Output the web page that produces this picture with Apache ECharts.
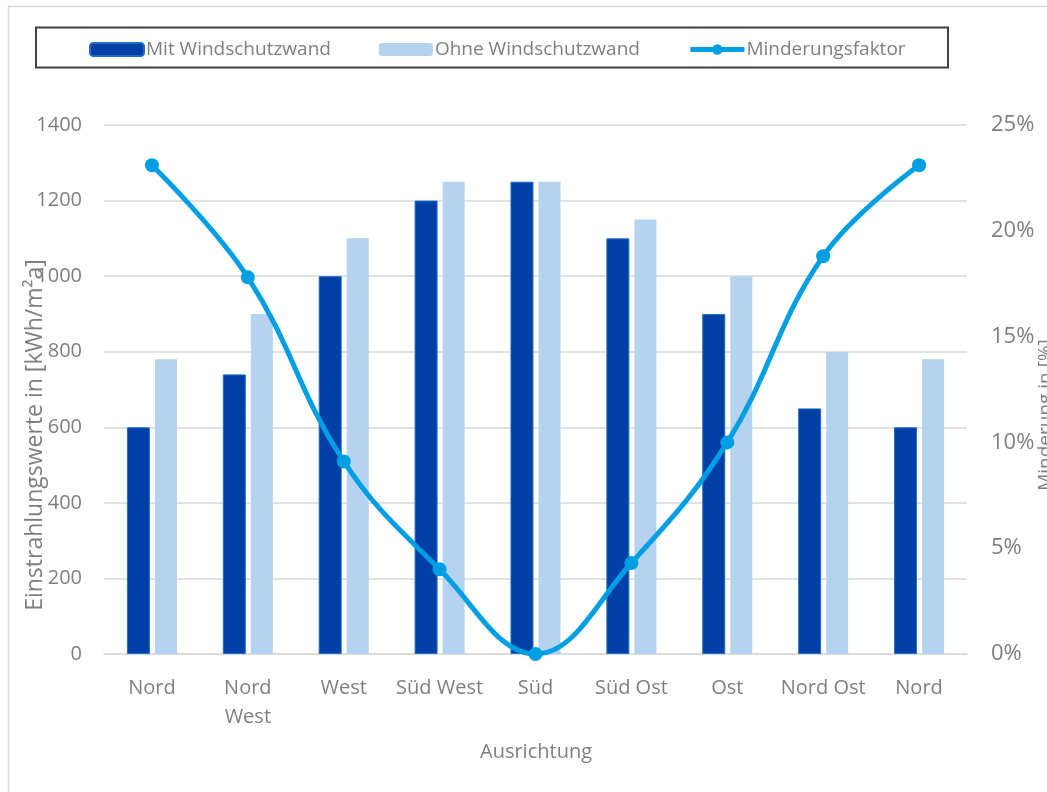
<!DOCTYPE html>
<html>
<head>
<meta charset="utf-8">
<script src="https://cdn.jsdelivr.net/npm/echarts@6/dist/echarts.min.js"></script>
<style>
html,body{margin:0;padding:0;background:#fff;}
#chart{width:1047px;height:792px;}
</style>
</head>
<body>
<div id="chart"></div>
<script>
// Ausrichtung
var kategorien = ['Nord', 'Nord\nWest', 'West', 'Süd West', 'Süd', 'Süd Ost', 'Ost', 'Nord Ost', 'Nord'];
// Einstrahlung kWh/m²a
var mitWand = [600, 740, 1000, 1200, 1250, 1100, 900, 650, 600];
var ohneWand = [780, 900, 1100, 1250, 1250, 1150, 1000, 800, 780];
// Minderungsfaktor (Anteil)
var minderung = [0.231, 0.178, 0.091, 0.040, 0.000, 0.043, 0.100, 0.188, 0.231];
var linksTicks = [0, 200, 400, 600, 800, 1000, 1200, 1400];

var grau = '#7f7f7f';
var schrift = '"Open Sans", "Noto Sans", sans-serif';

var chart = echarts.init(document.getElementById('chart'));
chart.setOption({
	backgroundColor: '#fff',
	animation: false,
	textStyle: { fontFamily: schrift },
	grid: { left: 104, right: 80, top: 125, bottom: 138, containLabel: false },
	legend: {
		top: 35,
		left: 84,
		itemWidth: 54,
		itemHeight: 13,
		itemGap: 48,
		textStyle: { color: grau, fontSize: 19, padding: [0, 0, 0, -3] },
		data: [
			{ name: 'Mit Windschutzwand' },
			{ name: 'Ohne Windschutzwand' },
			{ name: 'Minderungsfaktor', itemStyle: { color: '#009fe3' }, lineStyle: { width: 5, color: '#009fe3' } }
		]
	},
	xAxis: {
		type: 'category',
		data: kategorien,
		axisLine: { lineStyle: { color: '#d9d9d9', width: 1.5 } },
		axisTick: { show: false },
		axisLabel: { color: grau, fontSize: 20, margin: 20, lineHeight: 29, interval: 0 }
	},
	yAxis: [{
		type: 'value',
		min: linksTicks[0],
		max: linksTicks[linksTicks.length - 1],
		interval: 200,
		axisLine: { show: false },
		axisTick: { show: false },
		splitLine: { lineStyle: { color: '#d9d9d9', width: 1.5 } },
		axisLabel: { color: grau, fontSize: 20, margin: 22, formatter: function (v) { return String(v); } }
	}, {
		type: 'value',
		min: 0,
		max: 0.25,
		interval: 0.05,
		axisLine: { show: false },
		axisTick: { show: false },
		splitLine: { show: false },
		axisLabel: {
			color: grau, fontSize: 22, margin: 24,
			formatter: function (v) { return Math.round(v * 100) + '%'; }
		}
	}],
	series: [{
		name: 'Mit Windschutzwand',
		type: 'bar',
		data: mitWand,
		barWidth: 23,
		barGap: '22%',
		itemStyle: { color: '#003fa5', borderColor: '#1f6fc8', borderWidth: 1 }
	}, {
		name: 'Ohne Windschutzwand',
		type: 'bar',
		data: ohneWand,
		barWidth: 22,
		itemStyle: { color: '#b5d3ee' }
	}, {
		name: 'Minderungsfaktor',
		type: 'line',
		yAxisIndex: 1,
		data: minderung,
		smooth: 0.4,
		symbol: 'circle',
		symbolSize: 14,
		lineStyle: { color: '#009fe3', width: 5 },
		itemStyle: { color: '#009fe3' },
		z: 5
	}],
	graphic: [{
		type: 'rect',
		shape: { x: 8.5, y: 6.5, width: 1060, height: 800 },
		style: { fill: 'none', stroke: '#d9d9d9', lineWidth: 1.5 },
		z: -1
	}, {
		type: 'rect',
		shape: { x: 36, y: 27.5, width: 912, height: 40 },
		style: { fill: 'none', stroke: '#404040', lineWidth: 2 }
	}, {
		type: 'text',
		x: 35, y: 435,
		rotation: Math.PI / 2,
		style: {
			text: 'Einstrahlungswerte in [kWh/m²a]',
			fill: grau, fontSize: 23, fontFamily: schrift,
			align: 'center', verticalAlign: 'middle'
		}
	}, {
		type: 'text',
		x: 1046, y: 415,
		rotation: Math.PI / 2,
		style: {
			text: 'Minderung in [%]',
			fill: grau, fontSize: 19, fontFamily: schrift,
			align: 'center', verticalAlign: 'middle'
		}
	}, {
		type: 'text',
		x: 536, y: 752,
		style: {
			text: 'Ausrichtung',
			fill: grau, fontSize: 20, fontFamily: schrift,
			align: 'center', verticalAlign: 'middle'
		}
	}]
});
</script>
</body>
</html>
